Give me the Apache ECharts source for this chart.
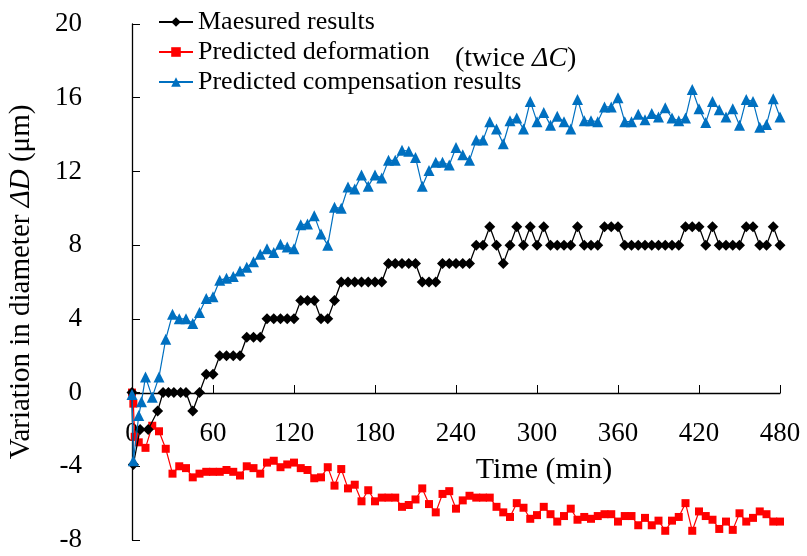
<!DOCTYPE html>
<html><head><meta charset="utf-8">
<script src="https://cdn.jsdelivr.net/npm/echarts@6/dist/echarts.min.js"></script>
<style>html,body{margin:0;padding:0;background:#fff}#c{width:807px;height:556px}</style>
</head><body><div id="c"></div>
<script>
// Measured results
const measuredTime = [0,1,6,12,19,23,27,31,36,40,45,50,55,60,65,70,75,80,85,90,95,100,105,110,115,120,125,130,135,140,145,150,155,160,165,170,175,180,185,190,195,200,205,210,215,220,225,230,235,240,245,250,255,260,265,270,275,280,285,290,295,300,305,310,315,320,325,330,335,340,345,350,355,360,365,370,375,380,385,390,395,400,405,410,415,420,425,430,435,440,445,450,455,460,465,470,475,480];
const measuredValue = [0,-3.9,-2,-2,-1,0,0,0,0,0,-1,0,1,1,2,2,2,2,3,3,3,4,4,4,4,4,5,5,5,4,4,5,6,6,6,6,6,6,6,7,7,7,7,7,6,6,6,7,7,7,7,7,8,8,9,8,7,8,9,8,9,8,9,8,8,8,8,9,8,8,8,9,9,9,8,8,8,8,8,8,8,8,8,9,9,9,8,9,8,8,8,8,9,9,8,8,9,8];
// Predicted deformation (twice ΔC)
const deformTime = [0,1,2,5,10,15,20,25,30,35,40,45,50,55,60,65,70,75,80,85,90,95,100,105,110,115,120,125,130,135,140,145,150,155,160,165,170,175,180,185,190,195,200,205,210,215,220,225,230,235,240,245,250,255,260,265,270,275,280,285,290,295,300,305,310,315,320,325,330,335,340,345,350,355,360,365,370,375,380,385,390,395,400,405,410,415,420,425,430,435,440,445,450,455,460,465,470,475,480];
const deformValue = [0,-0.6,-2.4,-2.7,-3.0,-1.8,-2.1,-3.05,-4.4,-4.0,-4.1,-4.6,-4.4,-4.3,-4.3,-4.3,-4.2,-4.3,-4.5,-4.0,-4.1,-4.4,-3.8,-3.7,-4.05,-3.9,-3.8,-4.1,-4.2,-4.65,-4.6,-4.05,-5.05,-4.15,-5.2,-5.0,-5.9,-5.3,-5.9,-5.7,-5.7,-5.7,-6.2,-6.1,-5.8,-5.2,-6.05,-6.5,-5.5,-5.35,-6.3,-5.85,-5.6,-5.7,-5.7,-5.7,-6.2,-6.5,-6.75,-6.0,-6.25,-6.85,-6.65,-6.2,-6.6,-7.0,-6.7,-6.3,-6.9,-6.75,-6.85,-6.7,-6.6,-6.6,-7.0,-6.7,-6.7,-7.2,-6.8,-7.2,-6.95,-7.5,-6.95,-6.75,-6.0,-7.5,-6.45,-6.7,-6.9,-7.4,-7.0,-7.45,-6.55,-7.0,-6.8,-6.45,-6.6,-7.0,-7.0];
// Predicted compensation results
const compTime = [0,1,5,7,10,15,20,25,30,35,40,45,50,55,60,65,70,75,80,85,90,95,100,105,110,115,120,125,130,135,140,145,150,155,160,165,170,175,180,185,190,195,200,205,210,215,220,225,230,235,240,245,250,255,260,265,270,275,280,285,290,295,300,305,310,315,320,325,330,335,340,345,350,355,360,365,370,375,380,385,390,395,400,405,410,415,420,425,430,435,440,445,450,455,460,465,470,475,480];
const compValue = [-0.1,-3.7,-1.25,-0.5,0.85,-0.25,0.85,2.9,4.25,4.0,4.0,3.75,4.35,5.1,5.2,6.1,6.2,6.3,6.6,6.8,7.1,7.5,7.8,7.6,8.05,7.9,7.8,9.1,9.15,9.6,8.6,8.0,10.05,10.0,11.15,11.05,11.8,11.2,11.8,11.65,12.6,12.6,13.15,13.1,12.75,11.2,12.05,12.5,12.5,12.35,13.3,12.9,12.6,13.7,13.7,14.7,14.3,13.5,14.75,14.9,14.3,15.8,14.7,15.2,14.5,15.0,14.7,14.3,15.9,14.75,14.75,14.7,15.5,15.5,16.0,14.7,14.7,15.1,14.8,15.15,14.95,15.45,14.9,14.75,14.9,16.45,15.4,14.65,15.8,15.35,14.95,15.4,14.5,15.9,15.8,14.4,14.55,15.95,14.95];
const xTicks = [0,60,120,180,240,300,360,420,480];
const yTicks = [-8,-4,0,4,8,12,16,20];
const seriesNames = ['Maesured results','Predicted deformation','Predicted compensation results'];

const pair = (t, v) => t.map((x, i) => [x, v[i]]);
const FONT = 'Liberation Serif';
const chart = echarts.init(document.getElementById('c'));
chart.setOption({
  backgroundColor: '#fff',
  animation: false,
  textStyle: {fontFamily: FONT, color: '#000'},
  grid: {left: 132, right: 27, top: 24, bottom: 16, containLabel: false, outerBoundsMode: 'none'},
  legend: {
    orient: 'vertical', left: 153, top: 4, itemWidth: 34, itemHeight: 12, itemGap: 4,
    textStyle: {fontFamily: FONT, fontSize: 26, color: '#000'},
    data: seriesNames
  },
  graphic: [{
    type: 'text', left: 455, top: 45,
    style: {
      text: '(twice {i|ΔC})',
      font: '28px "Liberation Serif"', fill: '#000',
      rich: {i: {fontStyle: 'italic', fontFamily: FONT, fontSize: 28, fill: '#000'}}
    }
  }],
  xAxis: {
    type: 'value', min: xTicks[0], max: xTicks[xTicks.length-1], interval: 60,
    offset: -147,
    name: 'Time (min)', nameLocation: 'middle', nameGap: 62,
    nameTextStyle: {fontFamily: FONT, fontSize: 30, color: '#000', padding: [0,0,0,176]},
    axisLine: {onZero: false, lineStyle: {color: '#000', width: 1.3}},
    axisTick: {inside: true, length: 8, lineStyle: {color: '#000'}},
    axisLabel: {margin: 27, fontFamily: FONT, fontSize: 27, color: '#000'},
    splitLine: {show: false}
  },
  yAxis: {
    type: 'value', min: yTicks[0], max: yTicks[yTicks.length-1], interval: 4,
    name: 'Variation in diameter {i|ΔD} (μm)', nameLocation: 'middle', nameGap: 96,
    nameTextStyle: {fontFamily: FONT, fontSize: 29, color: '#000',
      rich: {i: {fontStyle: 'italic', fontFamily: FONT, fontSize: 29, color: '#000'}}},
    axisLine: {show: true, onZero: false, lineStyle: {color: '#000', width: 1.3}},
    axisTick: {show: true, inside: true, length: 8, lineStyle: {color: '#000'}},
    axisLabel: {margin: 50, fontFamily: FONT, fontSize: 27, color: '#000'},
    splitLine: {show: false}
  },
  series: [
    {name: seriesNames[0], type: 'line', data: pair(measuredTime, measuredValue),
     symbol: 'diamond', symbolSize: 11, showAllSymbol: true,
     lineStyle: {color: '#000', width: 1.3}, itemStyle: {color: '#000'}, z: 3},
    {name: seriesNames[1], type: 'line', data: pair(deformTime, deformValue),
     symbol: 'rect', symbolSize: 8, showAllSymbol: true,
     lineStyle: {color: '#FF0000', width: 1.2}, itemStyle: {color: '#FF0000'}, z: 2},
    {name: seriesNames[2], type: 'line', data: pair(compTime, compValue),
     symbol: 'triangle', symbolSize: 11, showAllSymbol: true,
     lineStyle: {color: '#0070C0', width: 1.2}, itemStyle: {color: '#0070C0'}, z: 4}
  ]
});
</script></body></html>
